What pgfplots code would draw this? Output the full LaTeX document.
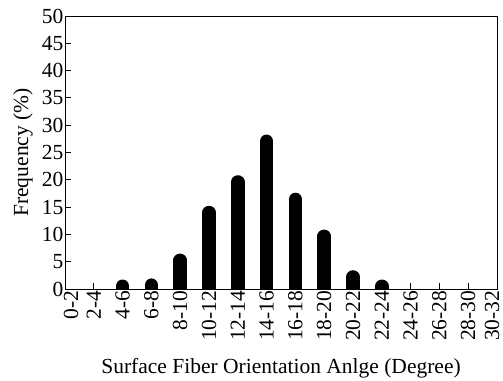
\documentclass[border=0pt]{standalone}
\usepackage{fontspec}
\setmainfont{Liberation Serif}
\usepackage{pgfplots}
\pgfplotsset{compat=1.18}
\begin{document}
\begin{tikzpicture}
\begin{axis}[
  scale only axis,
  width=432pt, height=273pt,
  xmin=0, xmax=15, ymin=0, ymax=50,
  xtick={0,...,15},
  xticklabels={\raisebox{-6pt}[\height][\depth]{0-2},2-4,4-6,6-8,8-10,10-12,12-14,14-16,16-18,18-20,20-22,22-24,24-26,26-28,28-30,\raisebox{5pt}[\height][\depth]{30-32}},
  ytick={0,5,...,50},
  xtick pos=bottom, ytick pos=left,
  tick align=inside,
  major tick length=6pt,
  /pgf/number format/assume math mode=true,
  ticklabel style={font=\fontsize{21.5}{22}\selectfont, inner sep=1.5pt},
  xticklabel style={rotate=90, anchor=east},
  yticklabel style={anchor=east},
  every axis y label/.style={at={(axis description cs:0,0.5)}, xshift=-42pt, rotate=90, anchor=center, font=\fontsize{21.5}{22}\selectfont},
  every axis x label/.style={at={(axis description cs:0.5,0)}, yshift=-79pt, anchor=center, font=\fontsize{21.5}{22}\selectfont},
  ylabel={Frequency (\%)},
  xlabel={Surface Fiber Orientation Anlge (Degree)},
  axis line style={line width=0.8pt},
  tick style={line width=0.8pt, black},
]
\addplot[ycomb, line width=13.5pt, line cap=round, black] coordinates {
  (2,0.5) (3,0.7) (4,5.25) (5,14.0) (6,19.6) (7,27.05) (8,16.4) (9,9.65) (10,2.2) (11,0.5)
};
\end{axis}
\pgfresetboundingbox
\path ([yshift=16pt]current axis.north east) ++(6pt,0) coordinate (ne);
\path (current axis.south west) ++(-65pt,-92pt) rectangle (ne);
\end{tikzpicture}
\end{document}
